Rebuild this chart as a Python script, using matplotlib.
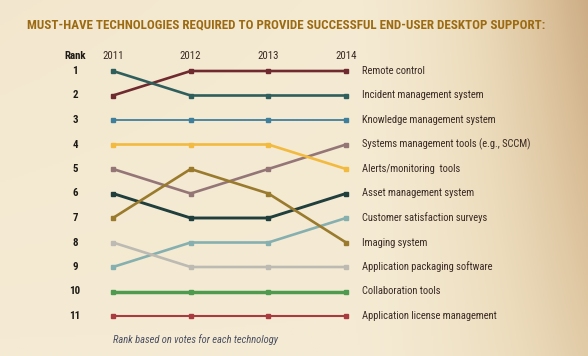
import numpy as np
import matplotlib
matplotlib.use("Agg")
import matplotlib.pyplot as plt
from matplotlib.colors import LinearSegmentedColormap

years = [2011, 2012, 2013, 2014]
ranks_axis = list(range(1, 12))
technologies = [
    "Remote control",
    "Incident management system",
    "Knowledge management system",
    "Systems management tools (e.g., SCCM)",
    "Alerts/monitoring  tools",
    "Asset management system",
    "Customer satisfaction surveys",
    "Imaging system",
    "Application packaging software",
    "Collaboration tools",
    "Application license management",
]
remote_control = [2, 1, 1, 1]
incident_mgmt = [1, 2, 2, 2]
knowledge_mgmt = [3, 3, 3, 3]
systems_mgmt = [5, 6, 5, 4]
alerts = [4, 4, 4, 5]
asset_mgmt = [6, 7, 7, 6]
customer_sat = [9, 8, 8, 7]
imaging = [7, 5, 6, 8]
app_packaging = [8, 9, 9, 9]
collaboration = [10, 10, 10, 10]
license_mgmt = [11, 11, 11, 11]
series = [remote_control, incident_mgmt, knowledge_mgmt, systems_mgmt, alerts,
          asset_mgmt, customer_sat, imaging, app_packaging, collaboration, license_mgmt]
colors = ["#6e2a2e", "#2f5f5c", "#3f7f9c", "#947676", "#f2ba3e",
          "#1f3e3c", "#86b0b0", "#9a7a2c", "#bcbab2", "#4e9a4e", "#a83a40"]
widths = [1.9, 1.9, 1.3, 1.9, 1.9, 2.1, 1.9, 1.9, 1.9, 2.5, 1.5]

fam = ["Roboto Condensed", "DejaVu Sans"]

fig = plt.figure(figsize=(5.88, 3.56), dpi=100)

# background gradient
bg = fig.add_axes([0, 0, 1, 1], zorder=0)
w, h = 300, 180
xx = np.linspace(0, 1, w)[None, :]
yy = np.linspace(0, 1, h)[:, None]  # 0 = top
val = (np.clip((xx - 0.6) / 0.4, 0, 1) ** 1.5 * (0.55 + 0.35 * (1 - yy))
       + 0.08 * (1 - yy) * (1 - xx))
cmap = LinearSegmentedColormap.from_list("bg", ["#f5ebd4", "#ecdcbc", "#dcc29c", "#c6a47c"])
bg.imshow(val, cmap=cmap, vmin=0, vmax=1, aspect="auto", extent=[0, 1, 0, 1])
bg.axis("off")

ax = fig.add_axes([0, 0, 1, 1], zorder=1)
ax.patch.set_alpha(0)
px_per_year = 233 / 3
ax.set_xlim(2011 - 113 / px_per_year, 2011 + (588 - 113) / px_per_year)
ax.set_ylim(11 + 40 / 24.5, 1 - 71 / 24.5)
ax.axis("off")

for vals, c, lw in zip(series, colors, widths):
    ax.plot(years, vals, color=c, lw=lw, marker="s", ms=3.0, mec=c, mfc=c,
            solid_capstyle="butt", zorder=3)

for r, name, c in zip(ranks_axis, technologies, colors):
    ax.text(2014 + 16 / px_per_year, r, name, fontsize=7.6, family=fam,
            color="#3a2a24", va="center", ha="left")
    ax.text(2011 - 38 / px_per_year, r, str(r), fontsize=7.8, family=fam,
            fontweight="bold", color="#1e1a16", va="center", ha="center")

hdr_y = 1 - 15 / 24.5
ax.text(2011 - 38 / px_per_year, hdr_y, "Rank", fontsize=7.8, family=fam,
        fontweight="bold", color="#1e1a16", va="center", ha="center")
for yr in years:
    ax.text(yr, hdr_y, str(yr), fontsize=7.8, family=fam, color="#3a2a24",
            va="center", ha="center")

fig.text(27 / 588, 1 - 25 / 356, "MUST-HAVE TECHNOLOGIES REQUIRED TO PROVIDE SUCCESSFUL END-USER DESKTOP SUPPORT:",
         fontsize=9.4, family=fam, fontweight="bold", color="#9b6a12", va="center", ha="left")
fig.text(113 / 588, 1 - 340 / 356, "Rank based on votes for each technology",
         fontsize=7.6, family=fam, style="italic", color="#4a4e62", va="center", ha="left")

fig.savefig("out.png", dpi=100)
